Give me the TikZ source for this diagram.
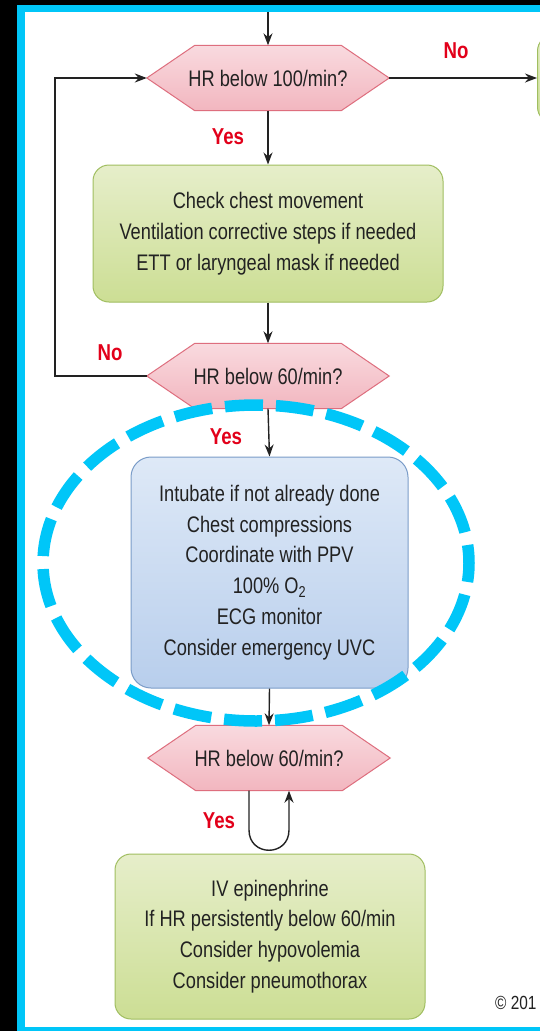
\documentclass[tikz,border=0pt]{standalone}
\usepackage{fontspec}
\setmainfont{Liberation Sans}[FakeStretch=0.81]
\usetikzlibrary{arrows.meta,backgrounds}

\definecolor{framecyan}{RGB}{0,198,248}
\definecolor{textgray}{RGB}{34,34,34}
\definecolor{labelred}{RGB}{226,0,26}
\definecolor{pinktop}{RGB}{249,218,223}
\definecolor{pinkbot}{RGB}{242,182,191}
\definecolor{pinkline}{RGB}{222,110,126}
\definecolor{greentop}{RGB}{230,238,202}
\definecolor{greenbot}{RGB}{204,222,148}
\definecolor{greenline}{RGB}{160,190,96}
\definecolor{bluetop}{RGB}{222,233,247}
\definecolor{bluebot}{RGB}{184,206,236}
\definecolor{blueline}{RGB}{122,156,200}

\newcommand\boxfont{\fontsize{22.5}{30.8}\selectfont}

\begin{document}
\begin{tikzpicture}[x=1pt,y=-1pt,
  txt/.style={font=\boxfont, text=textgray, align=center, inner sep=0pt},
  hexnode/.style={txt, minimum width=242pt, minimum height=65pt},
  hexline/.style={draw=pinkline, line width=1pt, top color=pinktop, bottom color=pinkbot},
  greenbox/.style={txt, draw=greenline, line width=1pt, rounded corners=16pt,
    top color=greentop, bottom color=greenbot},
  bluebox/.style={txt, draw=blueline, line width=1pt, rounded corners=20pt,
    top color=bluetop, bottom color=bluebot},
  lab/.style={font=\fontsize{23}{23}\selectfont\bfseries, text=labelred, inner sep=0pt},
  arr/.style={draw=textgray, line width=1.4pt, -{Stealth[length=12pt,width=9pt]}},
  link/.style={draw=textgray, line width=1.4pt}
]
\useasboundingbox (0,0) rectangle (540,1031);

% frame: black margin, cyan border, white sheet
\begin{scope}[on background layer]
  \fill[black] (0,0) rectangle (540,1031);
  \fill[framecyan] (17,5) rectangle (540,1031);
  \fill[white] (25,12) rectangle (540,1027);
\end{scope}

% decision nodes (outline drawn on the background layer below)
\node[hexnode] (h1) at (268,78)  {HR below 100/min?};
\node[hexnode] (h2) at (268,376) {HR below 60/min?};
\node[hexnode] (h3) at (269,758) {HR below 60/min?};

% action boxes
\node[greenbox, minimum width=350pt, minimum height=137pt] (g1) at (268,233.5)
  {Check chest movement\\Ventilation corrective steps if needed\\ETT or laryngeal mask if needed};
\node[bluebox, minimum width=277pt, minimum height=231pt] (b1) at (269.5,572.5)
  {Intubate if not already done\\Chest compressions\\Coordinate with PPV\\100\% O\textsubscript{2}\\ECG monitor\\Consider emergency UVC};
\node[greenbox, minimum width=310pt, minimum height=165pt] (g2) at (270,936.5)
  {IV epinephrine\\If HR persistently below 60/min\\Consider hypovolemia\\Consider pneumothorax};
\node[greenbox, minimum width=120pt, minimum height=88pt, anchor=west] (g0) at (537,79) {};

% hexagon outlines
\begin{scope}[on background layer]
  \foreach \h in {h1,h2,h3}
    \path[hexline] (\h.west) -- ([xshift=48pt]\h.north west) -- ([xshift=-48pt]\h.north east)
      -- (\h.east) -- ([xshift=-48pt]\h.south east) -- ([xshift=48pt]\h.south west) -- cycle;
\end{scope}

% labels
\node[lab] (no1)  at (456,51)  {No};
\node[lab] (yes1) at (228,137) {Yes};
\node[lab] (no2)  at (110,353) {No};
\node[lab] (yes2) at (226,437) {Yes};
\node[lab] (yes3) at (219,821) {Yes};
\node[font=\fontsize{19}{19}\selectfont, text=textgray, inner sep=0pt, anchor=west] (copy) at (495,1003) {© 201};

% connectors
\coordinate (entry) at (268,12);
\draw[arr] (entry) -- (h1.north);
\draw[arr] (h1.south) -- (g1.north);
\draw[arr] (g1.south) -- (h2.north);
\draw[arr] (h2.south) -- (b1.north);
\draw[arr] (b1.south) -- (h3.north);
\draw[arr] (h1.east) -- (h1.east -| g0.west);
\draw[arr] (h2.west) -- (55,376) |- (h1.west);
\coordinate (ua) at (249,830);
\coordinate (ub) at (289,830);
\draw[arr] (h3.south -| ua) -- (ua) .. controls (249,857) and (289,857) .. (ub) -- (h3.south -| ub);

% highlight ring
\draw[framecyan, line width=11.5pt, dash pattern=on 38pt off 13pt, dash phase=19pt]
  (256,563) ellipse [x radius=213, y radius=158];
\end{tikzpicture}
\end{document}
